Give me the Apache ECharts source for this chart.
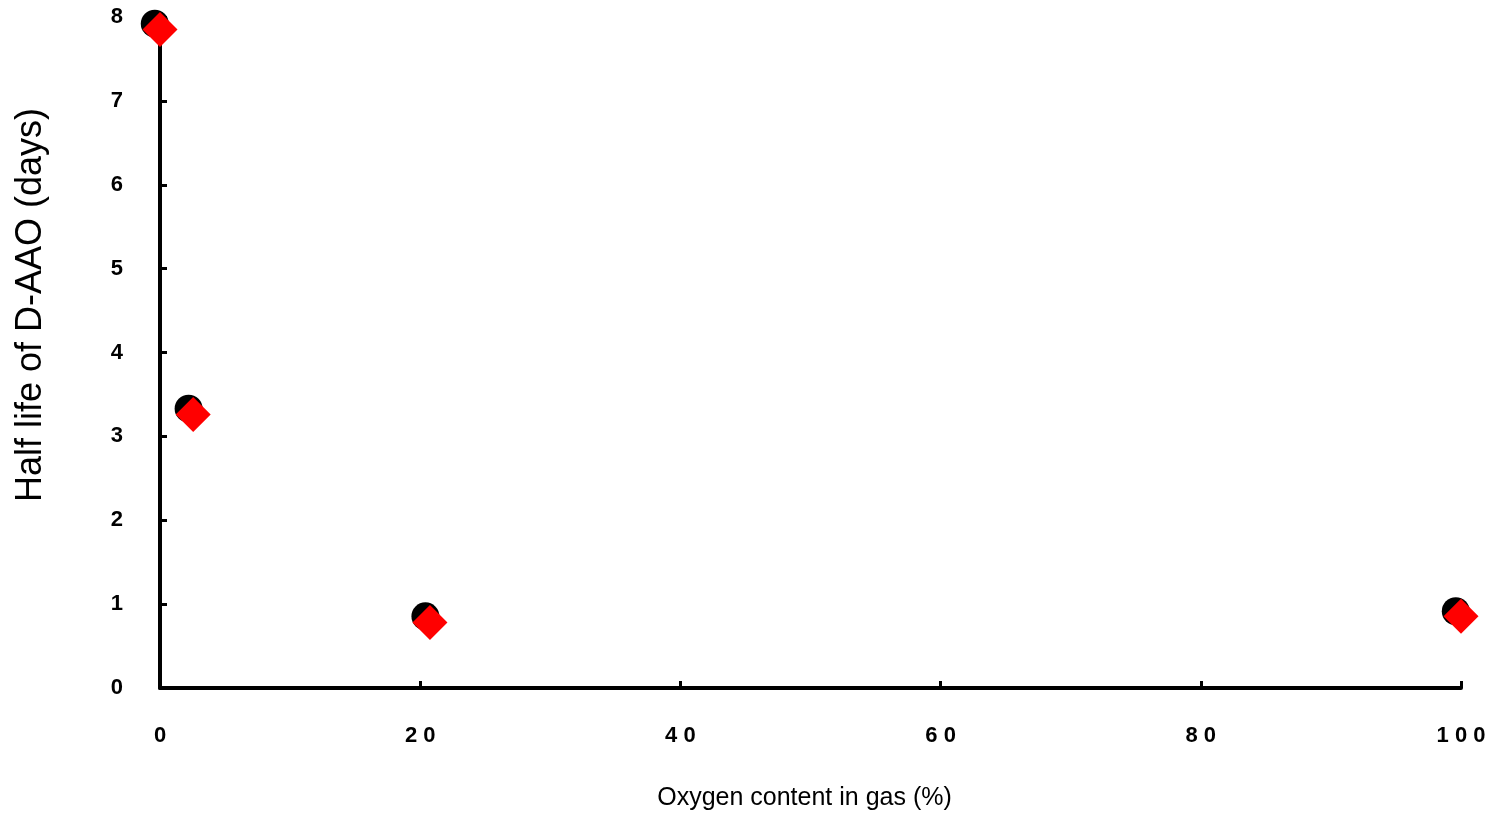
<!DOCTYPE html>
<html><head><meta charset="utf-8">
<script src="https://cdn.jsdelivr.net/npm/echarts@6/dist/echarts.min.js"></script>
<style>html,body{margin:0;padding:0;background:#fff}#c{width:1491px;height:816px}</style>
</head><body><div id="c"></div>
<script>
// Series A (black circles)
const circleX = [-0.4, 2.2, 20.4, 99.6];
const circleY = [7.92, 3.33, 0.855, 0.915];
// Series B (red diamonds)
const diamondX = [0.0, 2.55, 20.75, 100.0];
const diamondY = [7.85, 3.26, 0.78, 0.855];
const xTicks = [0, 20, 40, 60, 80, 100];
const yTicks = [0, 1, 2, 3, 4, 5, 6, 7, 8];
const xTitle = 'Oxygen content in gas (%)';
const yTitle = 'Half life of D-AAO (days)';

const FONT = 'Arial, "Liberation Sans", sans-serif';
const chart = echarts.init(document.getElementById('c'));
chart.setOption({
  animation: false,
  backgroundColor: '#fff',
  grid: {left: 160, right: 30, top: 17, bottom: 125, containLabel: false},
  xAxis: {
    type: 'value', min: xTicks[0], max: xTicks[xTicks.length - 1], interval: 20,
    splitLine: {show: false},
    axisLine: {show: true, onZero: false, lineStyle: {color: '#000', width: 4}},
    axisTick: {show: true, inside: true, length: 7, lineStyle: {color: '#000', width: 3}},
    axisLabel: {margin: 37, color: '#000', fontFamily: FONT, fontWeight: 'bold', fontSize: 22,
      formatter: v => String(v).split('').join(' ')},
    name: xTitle, nameLocation: 'middle', nameGap: 98,
    nameTextStyle: {color: '#000', fontFamily: FONT, fontSize: 25, padding: [0, 12, 0, 0]}
  },
  yAxis: {
    type: 'value', min: yTicks[0], max: yTicks[yTicks.length - 1], interval: 1,
    splitLine: {show: false},
    axisLine: {show: true, onZero: false, lineStyle: {color: '#000', width: 4}},
    axisTick: {show: true, inside: true, length: 7, lineStyle: {color: '#000', width: 3}},
    axisLabel: {margin: 37, color: '#000', fontFamily: FONT, fontWeight: 'bold', fontSize: 22}
  },
  graphic: [{
    type: 'text', x: 31, y: 305, rotation: Math.PI / 2,
    style: {text: yTitle, fill: '#000', font: '36px ' + FONT, align: 'center', verticalAlign: 'middle'}
  }],
  series: [
    {type: 'scatter', clip: false, symbol: 'circle', symbolSize: 28,
     itemStyle: {color: '#000', opacity: 1},
     data: circleX.map((x, i) => [x, circleY[i]])},
    {type: 'scatter', clip: false, symbol: 'diamond', symbolSize: 35,
     itemStyle: {color: '#ff0000', opacity: 1},
     data: diamondX.map((x, i) => [x, diamondY[i]])}
  ]
});
</script></body></html>
